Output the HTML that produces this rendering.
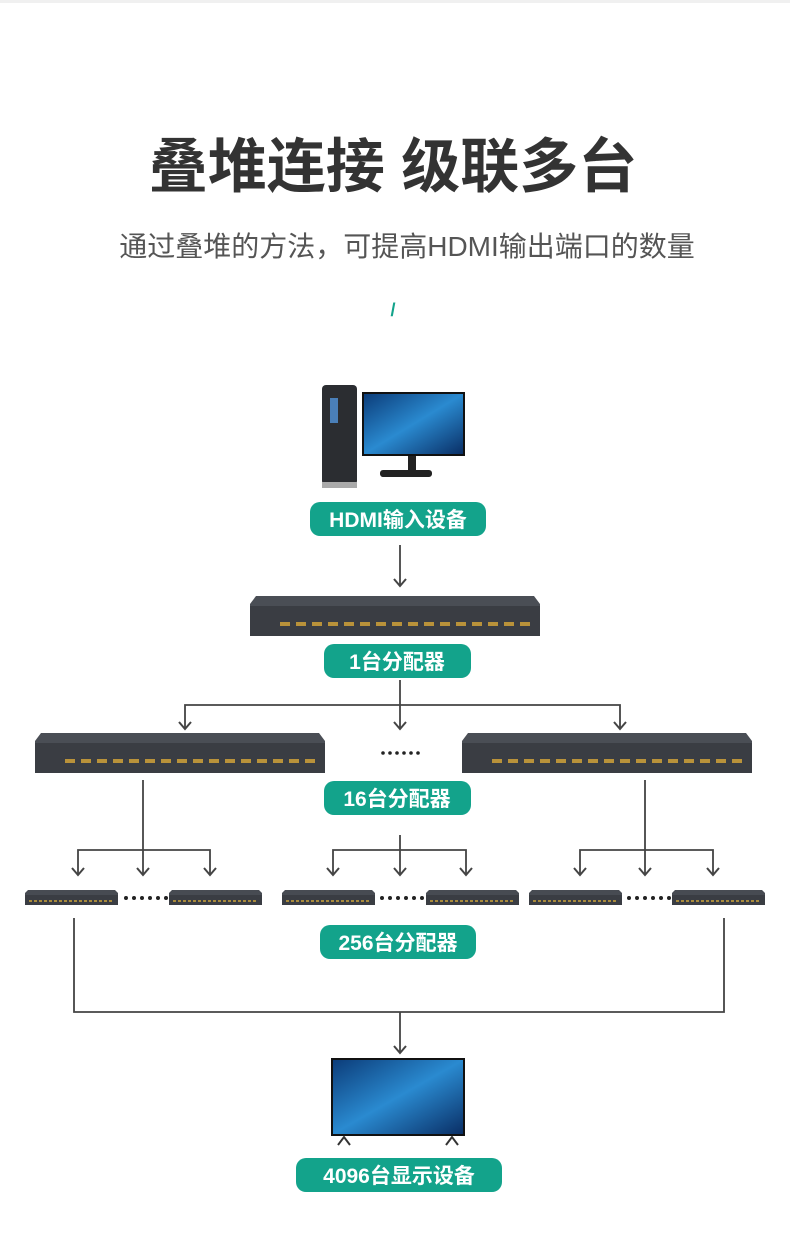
<!DOCTYPE html>
<html><head><meta charset="utf-8"><style>
body{margin:0;background:#fff;}
svg text{font-family:"Liberation Sans","Noto Sans CJK SC",sans-serif;}
</style></head><body>
<svg width="790" height="1241" viewBox="0 0 790 1241" xmlns="http://www.w3.org/2000/svg">
<defs>
<linearGradient id="scr" x1="0" y1="0" x2="1" y2="1"><stop offset="0" stop-color="#0c3d7a"/><stop offset="0.5" stop-color="#2a8ad0"/><stop offset="1" stop-color="#0a2f66"/></linearGradient>
<g id="sp"><path d="M0,8 L6,0 L284,0 L290,8 L290,40 L0,40 Z" fill="#4a4e55"/><rect x="0" y="10" width="290" height="30" fill="#3a3d43"/><g fill="#b9923a">
<rect x="30" y="26" width="10" height="4"/><rect x="46" y="26" width="10" height="4"/><rect x="62" y="26" width="10" height="4"/><rect x="78" y="26" width="10" height="4"/><rect x="94" y="26" width="10" height="4"/><rect x="110" y="26" width="10" height="4"/><rect x="126" y="26" width="10" height="4"/><rect x="142" y="26" width="10" height="4"/><rect x="158" y="26" width="10" height="4"/><rect x="174" y="26" width="10" height="4"/><rect x="190" y="26" width="10" height="4"/><rect x="206" y="26" width="10" height="4"/><rect x="222" y="26" width="10" height="4"/><rect x="238" y="26" width="10" height="4"/><rect x="254" y="26" width="10" height="4"/><rect x="270" y="26" width="10" height="4"/></g></g>
<g id="ss"><path d="M0,3 L3,0 L90,0 L93,3 L93,15 L0,15 Z" fill="#474b52"/><rect x="0" y="5" width="93" height="10" fill="#3a3d43"/><line x1="4" y1="11" x2="89" y2="11" stroke="#a88a3c" stroke-width="2" stroke-dasharray="3,2"/></g>
</defs>
<rect width="790" height="3" fill="#f0f0f0"/>
<text x="393" y="187" text-anchor="middle" font-size="59" font-weight="bold" fill="#333">叠堆连接 级联多台</text>
<text x="407" y="256" text-anchor="middle" font-size="28" fill="#555">通过叠堆的方法，可提高HDMI输出端口的数量</text>
<text x="393" y="316" text-anchor="middle" font-size="18" font-weight="bold" fill="#13a38b">/</text>

<rect x="322" y="385" width="35" height="100" rx="4" fill="#2b2d31"/>
<rect x="330" y="398" width="8" height="25" fill="#4a7fb8"/>
<rect x="322" y="482" width="35" height="6" fill="#aaa"/>
<rect x="362" y="392" width="103" height="64" fill="#111"/>
<rect x="364" y="394" width="99" height="60" fill="url(#scr)"/>
<rect x="408" y="456" width="8" height="14" fill="#222"/>
<rect x="380" y="470" width="52" height="7" rx="3" fill="#222"/>

<g fill="none" stroke="#444" stroke-width="1.8">
<line x1="400" y1="545" x2="400" y2="586"/>
<line x1="400" y1="680" x2="400" y2="729"/>
<polyline points="185,729 185,705 620,705 620,729"/>
<line x1="143" y1="780" x2="143" y2="875"/>
<polyline points="78,875 78,850 210,850 210,875"/>
<line x1="400" y1="835" x2="400" y2="875"/>
<polyline points="333,875 333,850 466,850 466,875"/>
<line x1="645" y1="780" x2="645" y2="875"/>
<polyline points="580,875 580,850 713,850 713,875"/>
<polyline points="74,918 74,1012 724,1012 724,918"/>
<line x1="400" y1="1012" x2="400" y2="1053"/>
<g stroke-width="2">
<path d="M394,579 L400,586 L406,579"/>
<path d="M394,722 L400,729 L406,722"/><path d="M179,722 L185,729 L191,722"/><path d="M614,722 L620,729 L626,722"/>
<path d="M72,868 L78,875 L84,868"/><path d="M137,868 L143,875 L149,868"/><path d="M204,868 L210,875 L216,868"/>
<path d="M327,868 L333,875 L339,868"/><path d="M394,868 L400,875 L406,868"/><path d="M460,868 L466,875 L472,868"/>
<path d="M574,868 L580,875 L586,868"/><path d="M639,868 L645,875 L651,868"/><path d="M707,868 L713,875 L719,868"/>
<path d="M394,1046 L400,1053 L406,1046"/>
</g>
</g>

<use href="#sp" x="250" y="596"/>
<use href="#sp" x="35" y="733"/>
<use href="#sp" x="462" y="733"/>
<g fill="#222">
<circle cx="383" cy="753" r="1.8"/><circle cx="390" cy="753" r="1.8"/><circle cx="397" cy="753" r="1.8"/><circle cx="404" cy="753" r="1.8"/><circle cx="411" cy="753" r="1.8"/><circle cx="418" cy="753" r="1.8"/>
<circle cx="126" cy="898" r="2"/><circle cx="134" cy="898" r="2"/><circle cx="142" cy="898" r="2"/><circle cx="150" cy="898" r="2"/><circle cx="158" cy="898" r="2"/><circle cx="166" cy="898" r="2"/>
<circle cx="382" cy="898" r="2"/><circle cx="390" cy="898" r="2"/><circle cx="398" cy="898" r="2"/><circle cx="406" cy="898" r="2"/><circle cx="414" cy="898" r="2"/><circle cx="422" cy="898" r="2"/>
<circle cx="629" cy="898" r="2"/><circle cx="637" cy="898" r="2"/><circle cx="645" cy="898" r="2"/><circle cx="653" cy="898" r="2"/><circle cx="661" cy="898" r="2"/><circle cx="669" cy="898" r="2"/>
</g>
<use href="#ss" x="25" y="890"/><use href="#ss" x="169" y="890"/>
<use href="#ss" x="282" y="890"/><use href="#ss" x="426" y="890"/>
<use href="#ss" x="529" y="890"/><use href="#ss" x="672" y="890"/>

<rect x="331" y="1058" width="134" height="78" fill="#111"/>
<rect x="333" y="1060" width="130" height="74" fill="url(#scr)"/>
<path d="M338,1145 L344,1137 L350,1145 M446,1145 L452,1137 L458,1145" stroke="#333" stroke-width="2" fill="none"/>

<g font-size="21" font-weight="bold" fill="#fff" text-anchor="middle">
<rect x="310" y="502" width="176" height="34" rx="10" fill="#13a38b"/><text x="398" y="527">HDMI输入设备</text>
<rect x="324" y="644" width="147" height="34" rx="10" fill="#13a38b"/><text x="397" y="669">1台分配器</text>
<rect x="324" y="781" width="147" height="34" rx="10" fill="#13a38b"/><text x="397" y="806">16台分配器</text>
<rect x="320" y="925" width="156" height="34" rx="10" fill="#13a38b"/><text x="398" y="950">256台分配器</text>
<rect x="296" y="1158" width="206" height="34" rx="10" fill="#13a38b"/><text x="399" y="1183">4096台显示设备</text>
</g>
</svg>
</body></html>
